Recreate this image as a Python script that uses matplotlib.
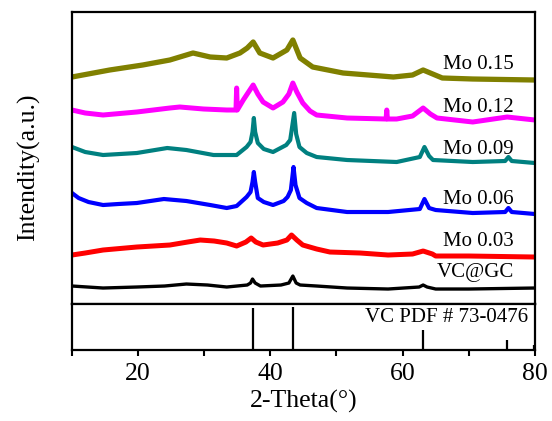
import matplotlib
matplotlib.use('Agg')
import matplotlib.pyplot as plt

plt.rcParams['font.family'] = ['Liberation Serif', 'DejaVu Serif']

# 2-theta / intensity points (a.u., stacked)
x_vc = [10, 14.7, 19.8, 24, 27.3, 30.5, 33.4, 36.5, 37.0, 37.3, 37.7, 38.5, 41.6, 42.8, 43.4, 43.9,
        44.5, 47, 51.6, 57.8, 62.5, 63.1, 63.7, 65, 70, 80]
y_vc = [18, 16, 17, 18, 20, 19, 17, 19, 21, 25, 21, 18, 19, 21, 28, 21,
        19, 18, 16, 15, 17, 19, 17, 15, 15, 16]

x_03 = [10, 12, 14.7, 19.8, 24.8, 27.5, 29.4, 31.5, 33.4, 34.9, 36.3, 37.1, 37.8, 38.9, 41.1, 42.5,
        43.2, 44.0, 44.9, 47, 49, 53.6, 57.8, 61.5, 63.1, 64.5, 65, 70, 80]
y_03 = [49, 51, 54, 57, 59, 62, 64, 63, 61, 58, 62, 66, 62, 59, 61, 64,
        69, 64, 59, 55, 52, 51, 49, 50, 53, 50, 48, 48, 47]

x_06 = [10, 11, 12.5, 14.7, 17, 19.8, 23.9, 27.3, 30.9, 33.4, 34.9, 36.4, 37.0, 37.3, 37.5, 37.7, 38.1,
        39, 40.4, 42.0, 42.6, 43.1, 43.5, 43.8, 44.4, 45.5, 47, 51.6, 57.8, 62.6, 63.3, 64.0, 65, 70.6,
        75.5, 76, 76.5, 80]
y_06 = [111, 106, 102, 99, 100, 101, 105, 103, 99, 96, 98, 107, 112, 122, 132, 122, 106,
        102, 99, 103, 107, 114, 137, 119, 106, 101, 96, 92, 92, 95, 105, 96, 94, 91,
        92, 96, 92, 90]

x_09 = [10, 12, 14.7, 19.8, 24.4, 27.3, 31.4, 34.9, 36.4, 37.0, 37.3, 37.5, 37.7, 38.1, 39, 40.4,
        42.4, 43.0, 43.6, 43.9, 44.4, 45.5, 47, 51.6, 59.1, 62.6, 63.3, 64.0, 64.6, 70.6, 75.5, 76,
        76.5, 80]
y_09 = [157, 152, 149, 151, 156, 154, 149, 149, 157, 162, 172, 186, 172, 161, 155, 152,
        159, 164, 191, 170, 157, 151, 147, 144, 142, 147, 157, 148, 144, 142, 143, 147,
        143, 141]

x_12 = [10, 12, 14.7, 19.8, 24.8, 26.3, 29.9, 33.4, 34.8, 34.9, 35.0, 35.9, 36.7, 37.4, 38.1,
        38.9, 40.4, 41.9, 42.8, 43.4, 44.0, 44.9, 46, 47, 51.6, 57.5, 57.6, 57.7, 59.1, 61.5,
        63.1, 64.2, 65.2, 70.6, 75.8, 80]
y_12 = [194, 191, 189, 192, 196, 197, 195, 194, 194, 216, 194, 204, 212, 219, 210,
        202, 196, 202, 210, 221, 212, 201, 193, 189, 186, 185, 194, 185, 185, 188,
        196, 190, 186, 182, 187, 184]

x_15 = [10, 15.7, 20.7, 24.8, 28.3, 30.9, 33.4, 35.4, 36.5, 37.4, 38.4, 40.4, 42.5, 43.4, 44.5,
        46.4, 51, 58.6, 61.5, 63.1, 66, 70.6, 80]
y_15 = [227, 234, 239, 244, 251, 247, 246, 251, 256, 262, 251, 246, 254, 264, 246,
        237, 231, 227, 229, 234, 226, 225, 224]

labels = ['VC@GC', 'Mo 0.03', 'Mo 0.06', 'Mo 0.09', 'Mo 0.12', 'Mo 0.15']
colors = ['black', '#ff0000', '#0000ff', '#008080', '#ff00ff', '#808000']
label_y = [32, 63, 105, 155, 197, 240]

# VC PDF # 73-0476 reference lines
pdf_x = [37.4, 43.4, 63.1, 75.8, 79.8]
pdf_y = [91, 94, 43, 22, 10]

fig = plt.figure(figsize=(5.52, 4.21), dpi=100)
gs = fig.add_gridspec(2, 1, height_ratios=[292, 46], hspace=0,
                      left=0.1304, right=0.969, top=0.9715, bottom=0.1686)
ax = fig.add_subplot(gs[0])
ax2 = fig.add_subplot(gs[1], sharex=ax)

xs = [x_vc, x_03, x_06, x_09, x_12, x_15]
ys = [y_vc, y_03, y_06, y_09, y_12, y_15]
lws = [2.4, 3.6, 3.0, 3.0, 3.6, 3.8]
for xx, yy, c, lw in zip(xs, ys, colors, lws):
    ax.plot(xx, yy, color=c, lw=lw, solid_joinstyle='round')
for lab, ly in zip(labels, label_y):
    ax.text(76.8, ly, lab, fontsize=15, ha='right', va='center')

ax.set_xlim(10, 80)
ax.set_ylim(0, 292)
ax.set_yticks([])
ax.tick_params(axis='x', which='both', bottom=False, labelbottom=False)
ax.set_ylabel('Intendity(a.u.)', fontsize=18.5)
ax.yaxis.set_label_coords(-0.068, 0.47)

ax2.vlines(pdf_x, 0, pdf_y, color='black', lw=1.6)
ax2.set_ylim(0, 100)
ax2.set_yticks([])
ax2.text(79, 70, 'VC PDF # 73-0476', fontsize=15, ha='right', va='center')
ax2.set_xticks([20, 40, 60, 80])
ax2.set_xticks([10, 30, 50, 70], minor=True)
ax2.tick_params(axis='x', which='both', direction='out', length=4, width=1.5, labelsize=18.5, pad=5)
ax2.set_xlabel('2-Theta(°)', fontsize=18.5, labelpad=4)

for a in (ax, ax2):
    for s in a.spines.values():
        s.set_linewidth(1.6)

fig.savefig('out.png', dpi=100)
